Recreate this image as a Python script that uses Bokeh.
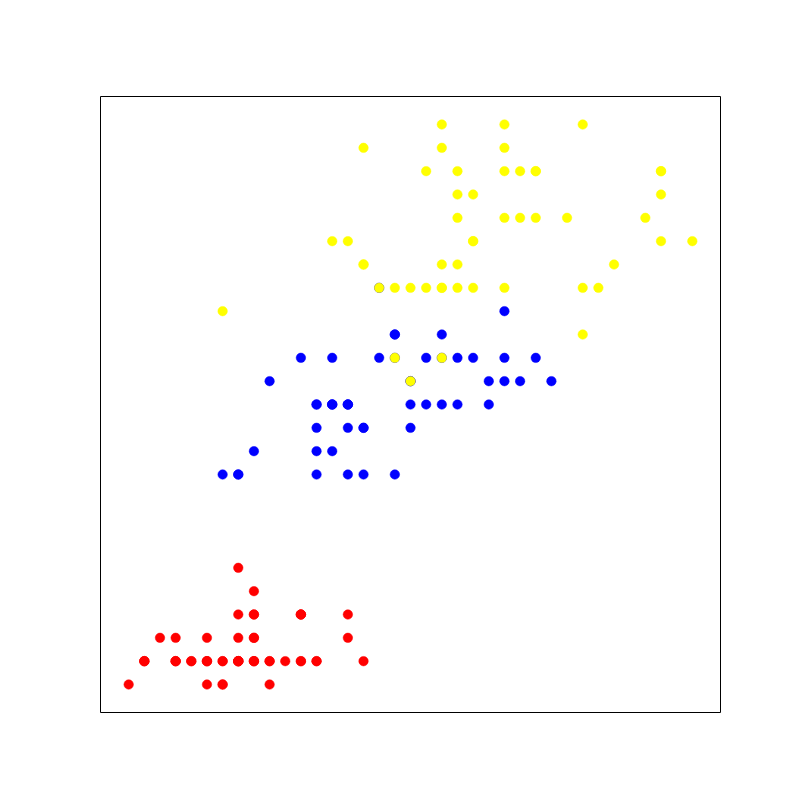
from bokeh.plotting import figure
from bokeh.models import Range1d, ColumnDataSource
from bokeh.embed import file_html
from bokeh.resources import INLINE

# Iris: sepal length (x) vs petal width (y)
setosa_x = [5.1, 4.9, 4.7, 4.6, 5.0, 5.4, 4.6, 5.0, 4.4, 4.9, 5.4, 4.8, 4.8, 4.3, 5.8, 5.7, 5.4, 5.1, 5.7, 5.1,
            5.4, 5.1, 4.6, 5.1, 4.8, 5.0, 5.0, 5.2, 5.2, 4.7, 4.8, 5.4, 5.2, 5.5, 4.9, 5.0, 5.5, 4.9, 4.4, 5.1,
            5.0, 4.5, 4.4, 5.0, 5.1, 4.8, 5.1, 4.6, 5.3, 5.0]
setosa_y = [0.2, 0.2, 0.2, 0.2, 0.2, 0.4, 0.3, 0.2, 0.2, 0.1, 0.2, 0.2, 0.1, 0.1, 0.2, 0.4, 0.4, 0.3, 0.3, 0.3,
            0.2, 0.4, 0.2, 0.5, 0.2, 0.2, 0.4, 0.2, 0.2, 0.2, 0.2, 0.4, 0.1, 0.2, 0.2, 0.2, 0.2, 0.1, 0.2, 0.2,
            0.3, 0.3, 0.2, 0.6, 0.4, 0.3, 0.2, 0.2, 0.2, 0.2]
versicolor_x = [7.0, 6.4, 6.9, 5.5, 6.5, 5.7, 6.3, 4.9, 6.6, 5.2, 5.0, 5.9, 6.0, 6.1, 5.6, 6.7, 5.6, 5.8, 6.2, 5.6,
                5.9, 6.1, 6.3, 6.1, 6.4, 6.6, 6.8, 6.7, 6.0, 5.7, 5.5, 5.5, 5.8, 6.0, 5.4, 6.0, 6.7, 6.3, 5.6, 5.5,
                5.5, 6.1, 5.8, 5.0, 5.6, 5.7, 5.7, 6.2, 5.1, 5.7]
versicolor_y = [1.4, 1.5, 1.5, 1.3, 1.5, 1.3, 1.6, 1.0, 1.3, 1.4, 1.0, 1.5, 1.0, 1.4, 1.3, 1.4, 1.5, 1.0, 1.5, 1.1,
                1.8, 1.3, 1.5, 1.2, 1.3, 1.4, 1.4, 1.7, 1.5, 1.0, 1.1, 1.0, 1.2, 1.6, 1.5, 1.6, 1.5, 1.3, 1.3, 1.3,
                1.2, 1.4, 1.2, 1.0, 1.3, 1.2, 1.3, 1.3, 1.1, 1.3]
virginica_x = [6.3, 5.8, 7.1, 6.3, 6.5, 7.6, 4.9, 7.3, 6.7, 7.2, 6.5, 6.4, 6.8, 5.7, 5.8, 6.4, 6.5, 7.7, 7.7, 6.0,
               6.9, 5.6, 7.7, 6.3, 6.7, 7.2, 6.2, 6.1, 6.4, 7.2, 7.4, 7.9, 6.4, 6.3, 6.1, 7.7, 6.3, 6.4, 6.0, 6.9,
               6.7, 6.9, 5.8, 6.8, 6.7, 6.7, 6.3, 6.5, 6.2, 5.9]
virginica_y = [2.5, 1.9, 2.1, 1.8, 2.2, 2.1, 1.7, 1.8, 1.8, 2.5, 2.0, 1.9, 2.1, 2.0, 2.4, 2.3, 1.8, 2.2, 2.3, 1.5,
               2.3, 2.0, 2.0, 1.8, 2.1, 1.8, 1.8, 1.8, 2.1, 1.6, 1.9, 2.0, 2.2, 1.5, 1.4, 2.3, 2.4, 1.8, 1.8, 2.1,
               2.4, 2.3, 1.9, 2.3, 2.5, 2.3, 1.9, 2.0, 2.3, 1.8]
colors = ["#ff0000", "#0000ff", "#ffff00"]

all_x = setosa_x + versicolor_x + virginica_x
all_y = setosa_y + versicolor_y + virginica_y
xmin, xmax = min(all_x), max(all_x)
ymin, ymax = min(all_y), max(all_y)
mx = 0.05 * (xmax - xmin)
my = 0.05 * (ymax - ymin)

p = figure(width=784, height=784, output_backend="svg", toolbar_location=None,
           x_range=Range1d(xmin - mx, xmax + mx), y_range=Range1d(ymin - my, ymax + my),
           min_border_left=100, min_border_right=64, min_border_top=96, min_border_bottom=72)
p.axis.visible = False
p.grid.visible = False
p.outline_line_color = "black"
p.outline_line_width = 1
p.outline_line_alpha = 1.0
p.background_fill_color = "white"
p.border_fill_color = "white"

for xs, ys, c in [(setosa_x, setosa_y, colors[0]), (versicolor_x, versicolor_y, colors[1]),
                  (virginica_x, virginica_y, colors[2])]:
    src = ColumnDataSource(dict(x=xs, y=ys))
    p.scatter("x", "y", source=src, size=9.5, fill_color=c, line_color=c, line_width=0.5)

open("out.html", "w").write(file_html(p, INLINE))
